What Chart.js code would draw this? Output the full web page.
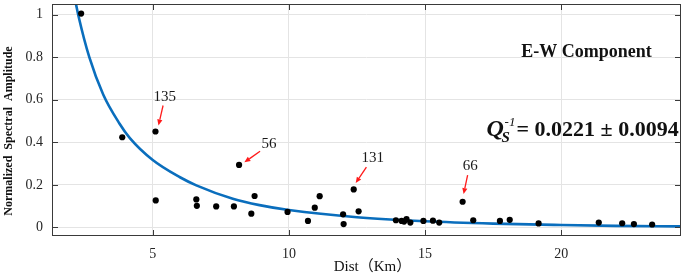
<!DOCTYPE html>
<html>
<head>
<meta charset="utf-8">
<script src="https://cdn.jsdelivr.net/npm/chart.js@4"></script>
<style>
  html, body { margin: 0; padding: 0; background: #fff; }
  canvas { display: block; }
</style>
</head>
<body>
<canvas id="qsChart" width="685" height="279"></canvas>
<script>
// station distance (km) vs normalized spectral amplitude
const distKm = [2.37, 3.88, 5.10, 5.11, 6.60, 6.62, 7.33, 7.98, 8.17, 8.62, 8.74, 9.95,
  10.70, 10.95, 11.13, 11.99, 12.01, 12.38, 12.56, 13.93, 14.14, 14.23, 14.32, 14.46,
  14.94, 15.29, 15.52, 16.38, 16.77, 17.75, 18.11, 19.17, 21.38, 22.24, 22.67, 23.34];
const normAmp = [1.005, 0.424, 0.451, 0.127, 0.132, 0.102, 0.099, 0.099, 0.294, 0.065, 0.148, 0.073,
  0.031, 0.093, 0.147, 0.062, 0.016, 0.179, 0.076, 0.034, 0.031, 0.028, 0.039, 0.023,
  0.031, 0.032, 0.023, 0.121, 0.034, 0.031, 0.036, 0.019, 0.023, 0.020, 0.016, 0.014];

// fitted decay curve
const fitDist = [2.18, 2.27, 2.67, 3.18, 3.77, 4.16, 5.0, 6.0, 6.6, 7.94, 8.92, 10, 12.5, 15, 17.5, 20, 22, 24.4];
const fitAmp = [1.05, 0.995, 0.80, 0.625, 0.49, 0.42, 0.317, 0.236, 0.198, 0.135, 0.105, 0.082, 0.048, 0.029, 0.018, 0.0115, 0.0078, 0.005];

// labelled events
const eventIds = ['135', '56', '131', '66'];
const eventDist = [5.10, 8.17, 12.38, 16.38];
const eventAmp = [0.451, 0.294, 0.179, 0.121];

const xTicks = [5, 10, 15, 20];
const yTicks = [0, 0.2, 0.4, 0.6, 0.8, 1];

const serif = "'Liberation Serif', 'Times New Roman', serif";
const axisGrey = '#3a3a3a';

// pixel offsets of arrow tip / tail / text from each labelled point
const calloutOffsets = [
  { tip: [3, -6], tail: [7.6, -26], text: [9.3, -34.3] },
  { tip: [5.3, -2.6], tail: [21, -13.6], text: [30, -20.6] },
  { tip: [2, -6.3], tail: [12.7, -22.3], text: [19, -31] },
  { tip: [1, -7.7], tail: [5, -26.7], text: [7.7, -35.7] },
];

function drawArrow(ctx, x0, y0, x1, y1) {
  const ang = Math.atan2(y1 - y0, x1 - x0);
  const head = 6, half = 2.6;
  const bx = x1 - head * Math.cos(ang), by = y1 - head * Math.sin(ang);
  ctx.beginPath();
  ctx.moveTo(x0, y0);
  ctx.lineTo(bx, by);
  ctx.stroke();
  ctx.beginPath();
  ctx.moveTo(x1, y1);
  ctx.lineTo(bx + half * Math.sin(ang), by - half * Math.cos(ang));
  ctx.lineTo(bx - half * Math.sin(ang), by + half * Math.cos(ang));
  ctx.closePath();
  ctx.fill();
}

const decorPlugin = {
  id: 'decor',
  afterDraw(chart) {
    const { ctx, chartArea: a, scales: { x, y } } = chart;
    ctx.save();

    // box + inward ticks (matlab style)
    ctx.strokeStyle = axisGrey;
    ctx.lineWidth = 1;
    ctx.strokeRect(a.left + 0.5, a.top + 0.5, a.right - a.left - 1, a.bottom - a.top - 1);
    ctx.beginPath();
    xTicks.forEach(v => {
      const px = Math.round(x.getPixelForValue(v)) + 0.5;
      ctx.moveTo(px, a.bottom); ctx.lineTo(px, a.bottom - 6);
      ctx.moveTo(px, a.top); ctx.lineTo(px, a.top + 6);
    });
    yTicks.forEach(v => {
      const py = Math.round(y.getPixelForValue(v)) + 0.5;
      ctx.moveTo(a.left, py); ctx.lineTo(a.left + 6, py);
      ctx.moveTo(a.right, py); ctx.lineTo(a.right - 6, py);
    });
    ctx.stroke();

    // callouts
    ctx.strokeStyle = '#ff1a1a';
    ctx.fillStyle = '#ff1a1a';
    ctx.lineWidth = 1.3;
    eventIds.forEach((id, i) => {
      const px = x.getPixelForValue(eventDist[i]);
      const py = y.getPixelForValue(eventAmp[i]);
      const o = calloutOffsets[i];
      drawArrow(ctx, px + o.tail[0], py + o.tail[1], px + o.tip[0], py + o.tip[1]);
    });
    ctx.fillStyle = '#1a1a1a';
    ctx.font = '15px ' + serif;
    ctx.textAlign = 'center';
    ctx.textBaseline = 'middle';
    eventIds.forEach((id, i) => {
      const px = x.getPixelForValue(eventDist[i]);
      const py = y.getPixelForValue(eventAmp[i]);
      const o = calloutOffsets[i];
      ctx.fillText(id, px + o.text[0], py + o.text[1]);
    });

    // component name
    ctx.fillStyle = '#111';
    ctx.font = 'bold 18px ' + serif;
    ctx.fillText('E-W Component', x.getPixelForValue(20.93), y.getPixelForValue(0.824));

    // Qs^-1 value
    const qx = x.getPixelForValue(17.26);
    const qy = y.getPixelForValue(0.43);
    ctx.textAlign = 'left';
    ctx.textBaseline = 'alphabetic';
    ctx.font = 'italic bold 24px ' + serif;
    ctx.fillText('Q', qx, qy);
    ctx.font = 'italic bold 15px ' + serif;
    ctx.fillText('S', qx + 15, qy + 6.5);
    ctx.font = 'italic 13px ' + serif;
    ctx.fillText('-1', qx + 18, qy - 10);
    ctx.font = 'bold 22px ' + serif;
    ctx.fillText('= 0.0221 \u00b1 0.0094', qx + 30, qy);

    // axis titles
    ctx.textAlign = 'center';
    ctx.textBaseline = 'middle';
    ctx.font = '15px ' + serif + ", 'Noto Sans CJK SC'";
    ctx.fillText('Dist\uff08Km\uff09', (a.left + a.right) / 2 + 6, 267);
    ctx.translate(9, a.top + 127);
    ctx.rotate(-Math.PI / 2);
    ctx.font = 'bold 12px ' + serif;
    ctx.fillText('Normalized  Spectral  Amplitude', 0, 0);
    ctx.restore();
  }
};

const ctx = document.getElementById('qsChart').getContext('2d');
new Chart(ctx, {
  type: 'scatter',
  data: {
    datasets: [
      {
        // fitted curve
        type: 'line',
        data: fitDist.map((d, i) => ({ x: d, y: fitAmp[i] })),
        borderColor: '#0a6ebd',
        borderWidth: 2.6,
        pointRadius: 0,
        cubicInterpolationMode: 'monotone',
        fill: false,
        order: 2,
      },
      {
        data: distKm.map((d, i) => ({ x: d, y: normAmp[i] })),
        backgroundColor: '#000',
        borderColor: '#000',
        pointRadius: 3.1,
        borderWidth: 0,
        order: 1,
      },
    ],
  },
  options: {
    responsive: false,
    animation: false,
    layout: { padding: { top: 2, right: 1, left: 0, bottom: 0 } },
    plugins: {
      legend: { display: false },
      tooltip: { enabled: false },
    },
    scales: {
      x: {
        type: 'linear',
        min: 1.3,
        max: 24.4,
        afterBuildTicks: s => { s.ticks = xTicks.map(v => ({ value: v })); },
        afterFit: s => { s.height = 43; s.paddingLeft = 0; s.paddingRight = 0; },
        grid: { color: '#e4e4e4', drawTicks: false },
        border: { display: false },
        ticks: { padding: 10, color: '#262626', font: { family: serif, size: 14 } },
      },
      y: {
        type: 'linear',
        min: -0.04,
        max: 1.05,
        afterBuildTicks: s => { s.ticks = yTicks.map(v => ({ value: v })); },
        afterFit: s => { s.width = 52; s.paddingTop = 0; s.paddingBottom = 0; },
        grid: { color: '#e4e4e4', drawTicks: false },
        border: { display: false },
        ticks: {
          padding: 9, color: '#262626', font: { family: serif, size: 14 },
          callback: v => String(Math.round(v * 10) / 10),
        },
      },
    },
  },
  plugins: [decorPlugin],
});
</script>
</body>
</html>
